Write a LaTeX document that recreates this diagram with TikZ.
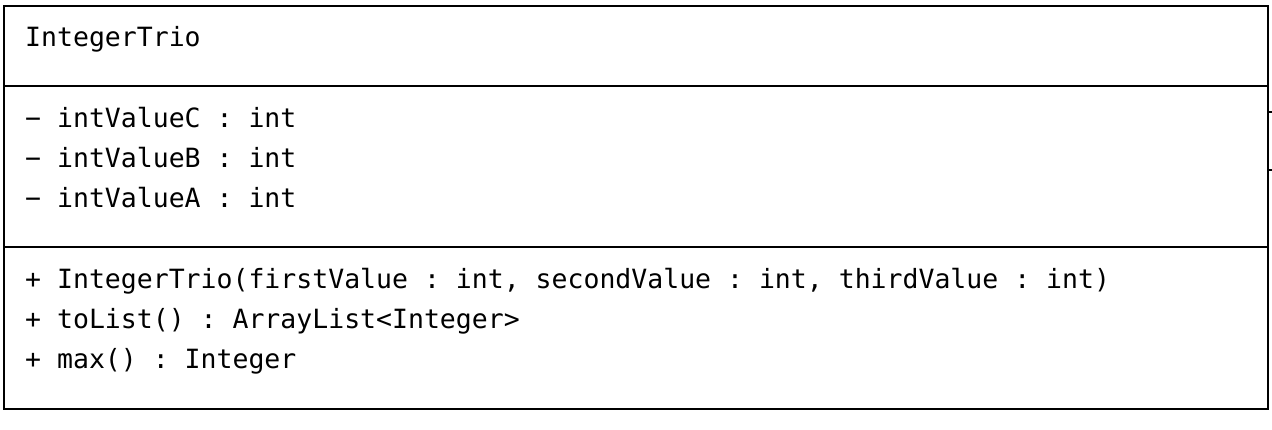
\documentclass[tikz,border=0pt]{standalone}
\usepackage{fontspec}
\setmonofont{DejaVu Sans Mono}
\begin{document}
\begin{tikzpicture}[x=1pt,y=-1pt,
  frame/.style={draw=black,line width=2pt},
  member/.style={anchor=base west,inner sep=0pt,font=\ttfamily\fontsize{26.5}{32}\selectfont}]
\useasboundingbox (0,0) rectangle (1272,430);
% class box with its three compartments
\draw[frame] (4,6) rectangle (1268,409);
\draw[frame] (4,86) -- (1268,86);
\draw[frame] (4,247) -- (1268,247);
% stubs of lines leaving the right edge
\draw[frame] (1268,112) -- (1272,112);
\draw[frame] (1268,170) -- (1272,170);
% class name
\node[member] (name) at (25,47) {IntegerTrio};
% attributes
\node[member] (attrC) at (25,128) {− intValueC : int};
\node[member] (attrB) at (25,168) {− intValueB : int};
\node[member] (attrA) at (25,208) {− intValueA : int};
% operations
\node[member] (ctor) at (25,289) {+ IntegerTrio(firstValue : int, secondValue : int, thirdValue : int)};
\node[member] (tolist) at (25,329) {+ toList() : ArrayList<Integer>};
\node[member] (max) at (25,369) {+ max() : Integer};
\end{tikzpicture}
\end{document}
